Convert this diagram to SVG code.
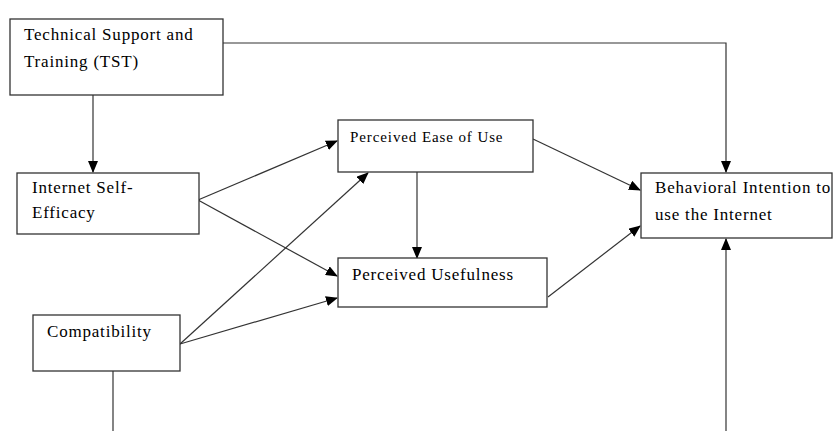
<svg xmlns="http://www.w3.org/2000/svg" width="833" height="431" viewBox="0 0 833 431">
<style>
.box{fill:#fff;stroke:#333;stroke-width:1.3}
.t{font-family:"Liberation Serif","Times New Roman",serif;font-size:17px;letter-spacing:0.8px;fill:#000}
.ts{font-family:"Liberation Serif","Times New Roman",serif;font-size:15px;letter-spacing:0.9px;fill:#000}
.c{fill:none;stroke:#333;stroke-width:1.2}
</style>
<defs>
<marker id="ah" markerWidth="12" markerHeight="10" refX="11" refY="5" orient="auto" markerUnits="userSpaceOnUse">
<path d="M0,0 L12,5 L0,10 Z" fill="#000"/>
</marker>
</defs>
<g id="connectors">
<path class="c" d="M223,43 H726 V172" marker-end="url(#ah)"/>
<path class="c" d="M93,95 V172" marker-end="url(#ah)"/>
<path class="c" d="M198,200 L337,141" marker-end="url(#ah)"/>
<path class="c" d="M198,200 L337,276" marker-end="url(#ah)"/>
<path class="c" d="M180,344 L368,173" marker-end="url(#ah)"/>
<path class="c" d="M180,344 L337,298" marker-end="url(#ah)"/>
<path class="c" d="M417,172 V258" marker-end="url(#ah)"/>
<path class="c" d="M533,139 L640,190" marker-end="url(#ah)"/>
<path class="c" d="M548,297 L640,226" marker-end="url(#ah)"/>
<path class="c" d="M113,371 V431"/>
<path class="c" d="M726,431 V239" marker-end="url(#ah)"/>
</g>
<g id="tst">
<rect class="box" x="10" y="19" width="213" height="76"/>
<text class="t" x="24" y="40">Technical Support and</text>
<text class="t" x="24" y="67">Training (TST)</text>
</g>
<g id="ise">
<rect class="box" x="17" y="173" width="182" height="61"/>
<text class="t" x="32" y="193">Internet Self-</text>
<text class="t" x="32" y="218">Efficacy</text>
</g>
<g id="peou">
<rect class="box" x="338" y="120" width="195" height="52"/>
<text class="ts" x="350" y="142">Perceived Ease of Use</text>
</g>
<g id="pu">
<rect class="box" x="338" y="258" width="209" height="49"/>
<text class="t" x="352" y="280">Perceived Usefulness</text>
</g>
<g id="bi">
<rect class="box" x="641" y="173" width="191" height="65"/>
<text class="t" x="655" y="193">Behavioral Intention to</text>
<text class="t" x="655" y="220">use the Internet</text>
</g>
<g id="compat">
<rect class="box" x="33" y="315" width="147" height="56"/>
<text class="t" x="47" y="337">Compatibility</text>
</g>
</svg>
